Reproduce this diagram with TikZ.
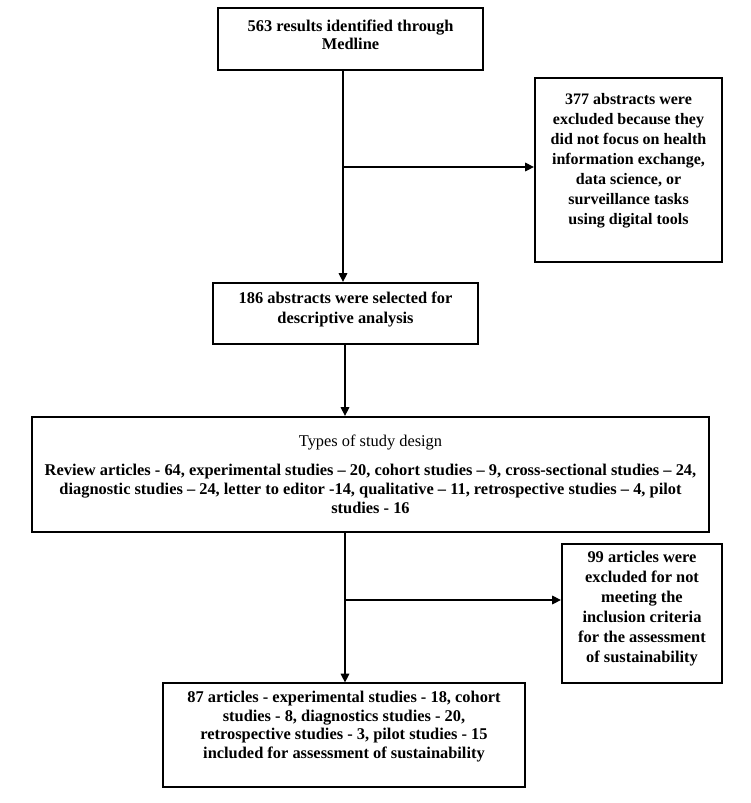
\documentclass[tikz,border=0pt]{standalone}
\usepackage{fontspec}
\setmainfont{Liberation Serif}
\usetikzlibrary{arrows.meta}
\newcommand{\uptext}[2]{\raisebox{#1}[\height][\depth]{\begin{tabular}{@{}c@{}}#2\end{tabular}}}
\begin{document}
\begin{tikzpicture}[x=0.75pt,y=-0.75pt,
  box/.style={draw, line width=1.7pt, inner sep=0pt, align=center, font=\bfseries\fontsize{12.3}{14.5}\selectfont},
  thinbox/.style={box, line width=0.9pt},
  conn/.style={line width=0.8pt},
  arr/.style={conn, -{Triangle[width=6.5pt,length=6.5pt]}}]
\useasboundingbox[fill=white] (0,0) rectangle (750,803);
\node[box, minimum width=265*0.75pt, minimum height=62*0.75pt, font=\bfseries\fontsize{12.3}{13.8}\selectfont] (b1) at (350.5,39)
  {\uptext{1.5pt}{563 results identified through\\Medline}};
\node[box, minimum width=187*0.75pt, minimum height=184*0.75pt, font=\bfseries\fontsize{12}{15}\selectfont] (b3) at (628.5,170)
  {\uptext{7pt}{377 abstracts were\\excluded because they\\did not focus on health\\information exchange,\\data science, or\\surveillance tasks\\using digital tools}};
\node[box, minimum width=265*0.75pt, minimum height=61*0.75pt, font=\bfseries\fontsize{12.3}{15}\selectfont] (b2) at (345.5,313.5)
  {\uptext{3pt}{186 abstracts were selected for\\descriptive analysis}};
\node[box, minimum width=677*0.75pt, minimum height=115*0.75pt] (b4) at (370.5,474.5)
  {{\mdseries Types of study design}\\[7pt]
   Review articles - 64, experimental studies – 20, cohort studies – 9, cross-sectional studies – 24,\\
   diagnostic studies – 24, letter to editor -14, qualitative – 11, retrospective studies – 4, pilot\\
   studies - 16};
\node[box, minimum width=160*0.75pt, minimum height=139*0.75pt, font=\bfseries\fontsize{12.3}{15}\selectfont] (b5) at (642,613.5)
  {\uptext{3.4pt}{99 articles were\\excluded for not\\meeting the\\inclusion criteria\\for the assessment\\of sustainability}};
\node[thinbox, minimum width=362*0.75pt, minimum height=104*0.75pt, font=\bfseries\fontsize{12.3}{13.9}\selectfont] (b6) at (344,735)
  {\uptext{6pt}{87 articles - experimental studies - 18, cohort\\studies - 8, diagnostics studies - 20,\\retrospective studies - 3, pilot studies - 15\\included for assessment of sustainability}};
\coordinate (c1) at (343,167);
\coordinate (c2) at (345,600);
\draw[arr] (b1.south -| c1) -- (b2.north -| c1);
\draw[arr] (c1) -- (c1 -| b3.west);
\draw[arr] (b2.south -| c2) -- (b4.north -| c2);
\draw[arr] (b4.south -| c2) -- (b6.north -| c2);
\draw[arr] (c2) -- (c2 -| b5.west);
\end{tikzpicture}
\end{document}
